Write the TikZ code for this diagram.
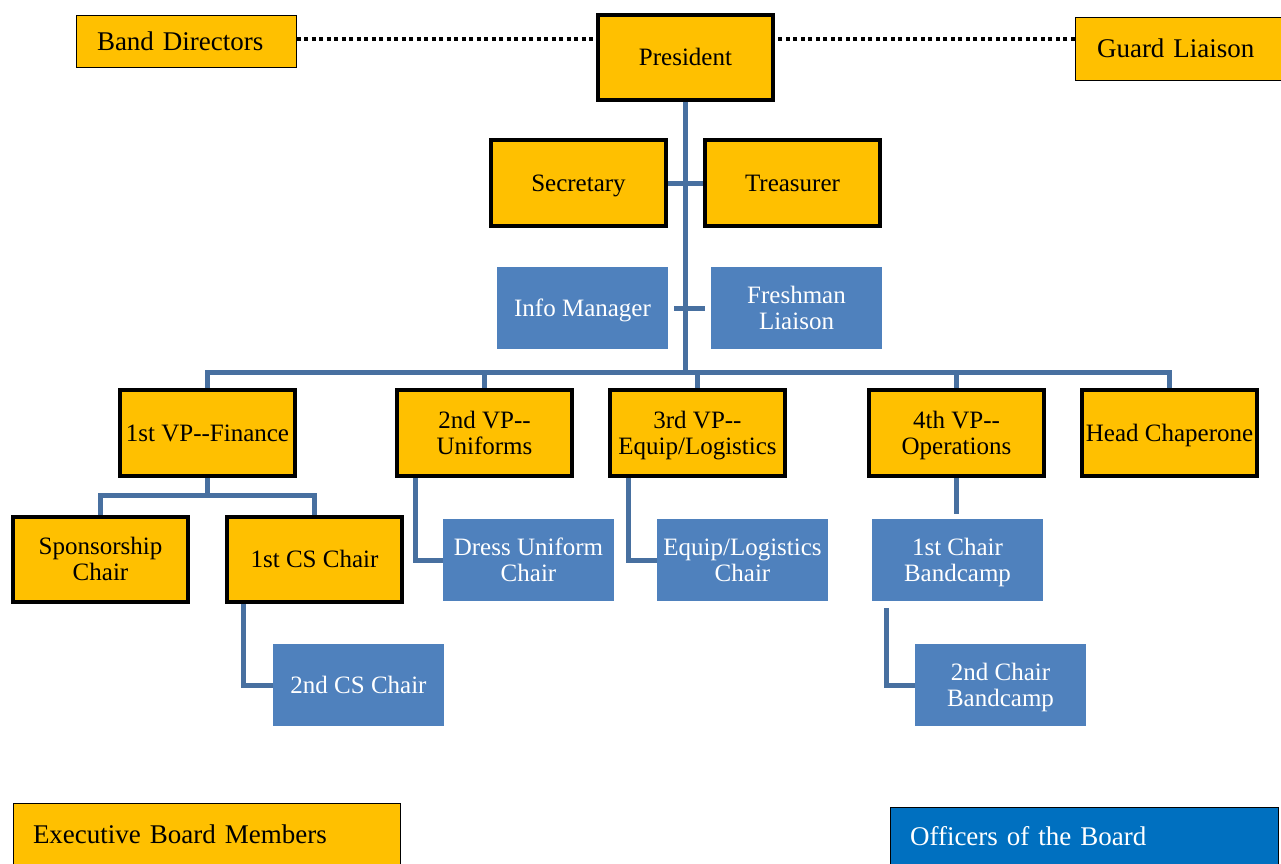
\documentclass[tikz,border=0pt]{standalone}
\usepackage{fontspec}
\setmainfont{Liberation Serif}
\usetikzlibrary{calc,backgrounds}
\definecolor{gold}{RGB}{255,192,0}
\definecolor{bfill}{RGB}{79,129,189}
\definecolor{conn}{RGB}{72,112,160}
\definecolor{offblue}{RGB}{0,112,192}
\newcommand\bstrut{\rule[-6pt]{0pt}{28.5pt}}
\newcommand\tstrut{\rule[-6pt]{0pt}{54.5pt}}
\begin{document}
\begin{tikzpicture}[x=1pt,y=-1pt,
  execbox/.style={draw=black, line width=4pt, fill=gold, minimum width=175pt, minimum height=86pt, inner sep=0pt, align=center, font=\fontsize{25}{26}\selectfont, execute at begin node=\bstrut, execute at end node=\bstrut},
  offbox/.style={fill=bfill, text=white, minimum width=171pt, minimum height=82pt, inner sep=0pt, align=center, font=\fontsize{25}{26}\selectfont, execute at begin node=\bstrut, execute at end node=\bstrut},
  twoline/.style={execute at begin node=\tstrut},
  thinbox/.style={draw=black, line width=1pt, fill=gold, inner ysep=0pt, align=left, font=\fontsize{27}{28}\selectfont},
  link/.style={draw=conn, line width=5pt},
  dots/.style={draw=black, line width=4pt, dash pattern=on 4pt off 3.5pt}]
\useasboundingbox (0,0) rectangle (1281,863);
\clip (0,0) rectangle (1281,863);
% top row
\node[thinbox, minimum height=52pt, inner xsep=21pt, text width=178pt] (band) at (186,41) {Band Directors};
\node[execbox, minimum height=85pt] (pres) at (685.5,57.5) {President};
\node[thinbox, minimum height=63pt, inner xsep=22pt, text width=164pt] (guard) at (1179,48.5) {Guard Liaison};
% second row
\node[execbox] (sec) at (578.5,183) {Secretary};
\node[execbox] (tre) at (792.5,183) {Treasurer};
\node[offbox] (info) at (582.5,308) {Info Manager};
\node[offbox, twoline] (fresh) at (796.5,308) {Freshman\\Liaison};
% VP row
\node[execbox] (vp1) at (207.5,433) {1st VP-{}-Finance};
\node[execbox, twoline] (vp2) at (484.5,433) {2nd VP-{}-\\Uniforms};
\node[execbox, twoline] (vp3) at (697.5,433) {3rd VP-{}-\\Equip/Logistics};
\node[execbox, twoline] (vp4) at (956.5,433) {4th VP-{}-\\Operations};
\node[execbox] (head) at (1169.5,433) {Head Chaperone};
% chairs
\node[execbox, twoline, minimum height=85pt] (spon) at (100.5,559.5) {Sponsorship\\Chair};
\node[execbox, minimum height=85pt] (cs1) at (314.5,559.5) {1st CS Chair};
\node[offbox] (cs2) at (358.5,685) {2nd CS Chair};
\node[offbox, twoline] (dress) at (528.5,560) {Dress Uniform\\Chair};
\node[offbox, twoline] (equip) at (742.5,560) {Equip/Logistics\\Chair};
\node[offbox, twoline] (bc1) at (957.5,560) {1st Chair\\Bandcamp};
\node[offbox, twoline] (bc2) at (1000.5,685) {2nd Chair\\Bandcamp};
% legend
\node[thinbox, minimum height=63pt, inner xsep=20pt, text width=347pt] (leg1) at (206.5,834.5) {Executive Board Members};
\node[thinbox, fill=offblue, text=white, minimum height=59pt, inner xsep=20pt, text width=348pt] (leg2) at (1084,836.5) {Officers of the Board};
% connectors
\coordinate (busy) at (0,372);
\coordinate (sub1) at (0,495);
\coordinate (bl) at ([yshift=2pt]band.east);
\coordinate (gl) at ([yshift=10pt]guard.west);
\begin{pgfonlayer}{background}
\draw[dots] (bl) -- (bl -| pres.west);
\draw[dots] (gl) -- (gl -| pres.east);
\draw[link] (pres.south) -- (pres.south |- busy);
\draw[link] (sec.east) -- (tre.west);
\draw[link] ($(info.east)+(6,0)$) -- ($(fresh.west)+(-6,0)$);
\draw[link] (vp1.north) -- (vp1.north |- busy) -- (head.north |- busy) -- (head.north);
\draw[link] (vp2.north) -- (vp2.north |- busy);
\draw[link] (vp3.north) -- (vp3.north |- busy);
\draw[link] (vp4.north) -- (vp4.north |- busy);
\draw[link] (vp1.south) -- (vp1.south |- sub1);
\draw[link] (spon.north) -- (spon.north |- sub1) -- (cs1.north |- sub1) -- (cs1.north);
\draw[link] ([xshift=-71.5pt]cs1.south) |- (cs2.west);
\draw[link] ([xshift=-69.5pt]vp2.south) |- (dress.west);
\draw[link] ([xshift=-69.5pt]vp3.south) |- (equip.west);
\draw[link] (vp4.south) -- ($(vp4.south |- bc1.north)+(0,-5)$);
\draw[link] ([xshift=-71.5pt,yshift=-7pt]bc1.south) |- (bc2.west);
\end{pgfonlayer}
\end{tikzpicture}
\end{document}
